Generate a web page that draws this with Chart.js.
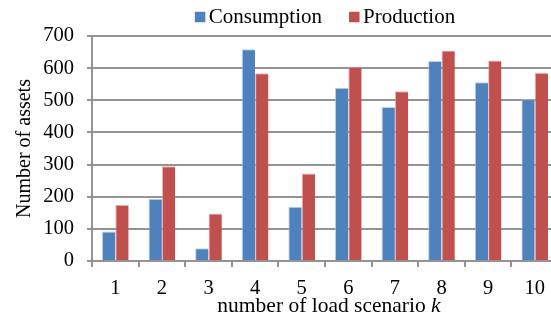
<!DOCTYPE html>
<html>
<head>
<meta charset="utf-8">
<script src="https://cdn.jsdelivr.net/npm/chart.js@4"></script>
<style>
    html, body { margin: 0; padding: 0; background: #fff; overflow: hidden; }
    #myChart { display: block; }
</style>
</head>
<body>
<canvas id="myChart" width="558" height="323"></canvas>
<script>
const labels = ['1', '2', '3', '4', '5', '6', '7', '8', '9', '10']
const consumption = [92, 194, 40, 659, 169, 539, 479, 622, 556, 503]
const production = [175, 295, 148, 584, 272, 604, 528, 655, 624, 586]
const yTicks = [0, 100, 200, 300, 400, 500, 600, 700]

const serif = "'Liberation Serif', 'Times New Roman', serif"

// legend + x title drawn by hand so the spacing and the italic k match
const textPlugin = {
    id: 'textPlugin',
    afterDraw(chart) {
        let { ctx, chartArea } = chart
        let mid = (chartArea.left + chartArea.right) / 2

        ctx.save()
        ctx.textBaseline = "middle"
        ctx.textAlign = "left"

        // legend
        ctx.font = `21px ${serif}`
        let box = 10.5
        let gap = 3.5
        let itemGap = 27
        let items = chart.data.datasets.map(ds => ({ text: ds.label, color: ds.backgroundColor, w: ctx.measureText(ds.label).width }))
        let total = items.reduce((s, it) => s + box + gap + it.w, 0) + itemGap * (items.length - 1)
        let x = mid - total / 2
        let y = 17
        items.forEach(it => {
            ctx.fillStyle = it.color
            ctx.fillRect(x, y - box / 2, box, box)
            x += box + gap
            ctx.fillStyle = "#000"
            ctx.fillText(it.text, x, y)
            x += it.w + itemGap
        })

        // x axis title
        let part1 = "number of load scenario "
        let part2 = "k"
        ctx.font = `21.5px ${serif}`
        let w1 = ctx.measureText(part1).width
        ctx.font = `italic 21.5px ${serif}`
        let w2 = ctx.measureText(part2).width
        let tx = mid + 4 - (w1 + w2) / 2
        let ty = 306.5
        ctx.font = `21.5px ${serif}`
        ctx.fillText(part1, tx, ty)
        ctx.font = `italic 21.5px ${serif}`
        ctx.fillText(part2, tx + w1, ty)

        ctx.restore()
    }
}

document.addEventListener("DOMContentLoaded", () => {
    let ctx = document.getElementById('myChart').getContext("2d")

    const gridGray = "#939393"

    const data = {
        labels: labels,
        datasets: [{
            label: 'Consumption',
            backgroundColor: "#4f81bd",
            borderColor: "rgba(170, 195, 230, 0.8)",
            borderWidth: { left: 1, top: 1, right: 0, bottom: 0 },
            data: consumption,
        }, {
            label: 'Production',
            backgroundColor: "#c0504d",
            borderColor: "rgba(230, 160, 160, 0.8)",
            borderWidth: { left: 1, top: 1, right: 0, bottom: 0 },
            data: production,
        }]
    }

    const config = {
        type: 'bar',
        data: data,
        plugins: [textPlugin],
        options: {
            responsive: false,
            animation: false,
            categoryPercentage: 0.573,
            barPercentage: 1,
            layout: { padding: { top: 36, left: 0, right: 0, bottom: 0 } },
            plugins: {
                legend: { display: false },
                tooltip: { enabled: false }
            },
            scales: {
                y: {
                    min: 0,
                    max: 700,
                    afterFit: scale => { scale.width = 92 },
                    afterBuildTicks: scale => { scale.ticks = yTicks.map(v => ({ value: v })) },
                    ticks: {
                        color: "#000",
                        padding: 13,
                        font: { family: serif, size: 20.5 }
                    },
                    grid: {
                        color: gridGray,
                        lineWidth: 2,
                        tickLength: 5
                    },
                    border: { display: true, color: gridGray, width: 2 },
                    title: {
                        display: true,
                        text: 'Number of assets',
                        color: "#000",
                        padding: { top: 13, bottom: 4 },
                        font: { family: serif, size: 20 }
                    }
                },
                x: {
                    afterFit: scale => { scale.height = 62 },
                    ticks: {
                        color: "#000",
                        padding: 9,
                        font: { family: serif, size: 20.5 }
                    },
                    grid: {
                        offset: true,
                        drawOnChartArea: false,
                        color: gridGray,
                        lineWidth: 2,
                        tickLength: 6
                    },
                    border: { display: true, color: gridGray, width: 2 }
                }
            }
        }
    }

    const myChart = new Chart(ctx, config)
})
</script>
</body>
</html>
